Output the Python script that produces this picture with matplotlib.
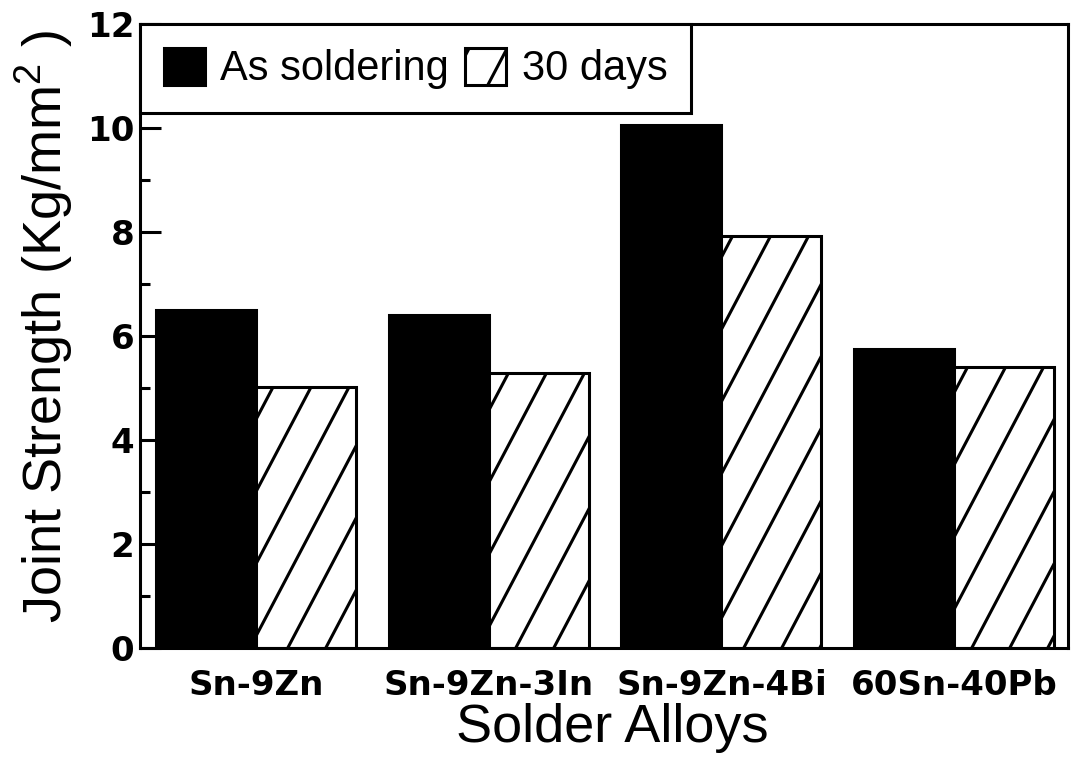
import matplotlib
matplotlib.use('Agg')
import matplotlib.pyplot as plt
import numpy as np
from matplotlib.patches import Patch
from matplotlib.lines import Line2D
from matplotlib.transforms import IdentityTransform

plt.rcParams['mathtext.fontset'] = 'custom'
plt.rcParams['mathtext.rm'] = 'Liberation Sans'

# data
alloys = ['Sn-9Zn', 'Sn-9Zn-3In', 'Sn-9Zn-4Bi', '60Sn-40Pb']
as_soldering = [6.5, 6.4, 10.05, 5.75]
after_30_days = [5.02, 5.29, 7.92, 5.4]
series_names = ['As soldering', '30 days']
yticks = [0, 2, 4, 6, 8, 10, 12]

LW = 2.2
SLOPE = 1.9      # steepness of the hatch lines (pixels)
SPACING = 38     # horizontal distance between hatch lines (pixels)


def hatch_display(x0, y0, x1, y1, phase):
    # hatch lines in display pixels covering the box (x0, y0)-(x1, y1)
    lines = []
    c_min = x0 - y1 / SLOPE - SPACING
    c_max = x1 - y0 / SLOPE + SPACING
    k0 = int(np.floor((c_min - phase) / SPACING))
    k1 = int(np.ceil((c_max - phase) / SPACING))
    for k in range(k0, k1 + 1):
        c = phase + k * SPACING
        ys = np.array([y0 - 5, y1 + 5])
        xs = c + ys / SLOPE
        lines.append((xs, ys))
    return lines


fig = plt.figure(figsize=(10.78, 7.71), dpi=100)
ax = fig.add_axes([140 / 1078, 1 - 648 / 771, 928 / 1078, 624 / 771])

x = np.arange(len(alloys))
w = 0.43
black_bars = ax.bar(x - w / 2, as_soldering, w, color='black', edgecolor='black',
                    linewidth=LW, zorder=2)
hatch_bars = ax.bar(x + w / 2, after_30_days, w, color='white', edgecolor='black',
                    linewidth=LW, zorder=2)

ax.set_xlim(-0.5, 3.49)
ax.set_ylim(0, 12)
ax.autoscale(False)

# steep hand-drawn style hatching, clipped to each bar
inv = ax.transData.inverted()
for bar in hatch_bars:
    bb = bar.get_window_extent()
    for xs, ys in hatch_display(bb.x0, bb.y0, bb.x1, bb.y1, phase=33):
        pts = inv.transform(np.column_stack([xs, ys]))
        ln, = ax.plot(pts[:, 0], pts[:, 1], color='black', lw=2.2, zorder=2.5,
                      solid_capstyle='butt')
        ln.set_clip_path(bar)

for s in ax.spines.values():
    s.set_linewidth(LW)

ax.set_yticks(yticks)
ax.set_yticks(np.arange(1, 12, 2), minor=True)
ax.tick_params(axis='y', which='major', direction='in', length=15, width=LW, pad=4)
ax.tick_params(axis='y', which='minor', direction='in', length=7, width=LW)
ax.tick_params(axis='x', which='both', length=0, pad=15)
ax.set_xticks(x)
ax.set_xticklabels(alloys)
for lab in ax.get_yticklabels():
    lab.set_fontfamily('DejaVu Sans')
    lab.set_fontweight('bold')
    lab.set_fontsize(24.5)
for lab in ax.get_xticklabels():
    lab.set_fontfamily('DejaVu Sans')
    lab.set_fontweight('bold')
    lab.set_fontsize(24.5)

ax.set_xlabel('Solder Alloys', fontfamily='Liberation Sans', fontsize=39)
ax.xaxis.set_label_coords(0.509, -0.088)
ax.set_ylabel(r'Joint Strength (Kg/mm$^{2}$ )', fontfamily='Liberation Sans',
              fontsize=39)
ax.yaxis.set_label_coords(-0.070, 0.515)

handles = [Patch(facecolor='black', edgecolor='black', linewidth=LW),
           Patch(facecolor='white', edgecolor='black', linewidth=LW)]
leg = ax.legend(handles, series_names, loc='upper left', bbox_to_anchor=(0, 1),
                borderaxespad=0, ncol=2, fancybox=False, framealpha=1,
                edgecolor='black', prop={'family': 'Liberation Sans', 'size': 30},
                handlelength=0.98, handleheight=0.98, handletextpad=0.37,
                columnspacing=0.4, borderpad=0.57)
leg.get_frame().set_linewidth(LW)
leg.set_zorder(5)

fig.canvas.draw()
hp = leg.get_patches()[1]
bb = hp.get_window_extent()
for xs, ys in hatch_display(bb.x0, bb.y0, bb.x1, bb.y1,
                            phase=bb.x0 + 4 - bb.y1 / SLOPE):
    ln = Line2D(xs, ys, transform=IdentityTransform(), color='black', lw=2.2)
    ln.set_clip_path(hp)
    ln.set_zorder(6)
    fig.add_artist(ln)

fig.savefig('out.png', dpi=100)
